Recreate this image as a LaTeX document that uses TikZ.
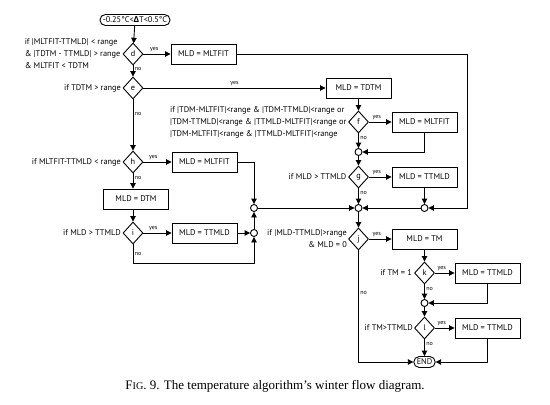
\documentclass[tikz,border=0pt]{standalone}
\usepackage{fontspec}
\setmainfont{Liberation Serif}
\newfontfamily\diag{PT Sans}
\newfontfamily\grk{Open Sans}
\usetikzlibrary{shapes.geometric,arrows.meta}
\begin{document}
\begin{tikzpicture}[x=1pt,y=-1pt,
  every node/.style={font=\diag\fontsize{8.3}{12}\selectfont},
  box/.style={draw, line width=0.9pt, minimum width=65pt, minimum height=20pt, inner sep=1pt},
  dia/.style={draw, diamond, line width=0.9pt, minimum width=20pt, minimum height=22pt, inner sep=0pt},
  term/.style={draw, rounded corners=5.5pt, line width=0.9pt, minimum height=11pt, inner xsep=3pt, inner ysep=0pt},
  circ/.style={draw, circle, minimum size=7pt, inner sep=0pt, line width=0.9pt},
  txt/.style={inner sep=0pt},
  arr/.style={line width=0.9pt, -{Triangle[length=5.5pt,width=5.5pt]}},
  yl/.style={font=\diag\fontsize{6}{7}\selectfont, inner sep=1.5pt},
]
\useasboundingbox (0,0) rectangle (550,405);
% column A
\node[term] (st) at (135,20) {-0.25°C<{\grk\bfseries Δ}T<0.5°C};
\node[dia] (d) at (133,54) {d};
\node[box] (b1) at (203.5,54) {MLD = MLTFIT};
\node[dia] (e) at (133,88) {e};
\node[dia] (h) at (133,162) {h};
\node[box] (b6) at (204.5,162) {MLD = MLTFIT};
\node[box] (dtm) at (136,199) {MLD = DTM};
\node[dia] (i) at (133,233) {i};
\node[box] (b7) at (204.5,233) {MLD = TTMLD};
\node[circ] (cu) at (254,208) {};
\node[circ] (cl) at (254,233) {};
% column B
\node[box] (tdtm) at (358.5,88) {MLD = TDTM};
\node[dia] (f) at (358.5,122) {f};
\node[box] (b2) at (424.5,122) {MLD = MLTFIT};
\node[circ] (c1) at (358.5,152) {};
\node[dia] (g) at (358.5,177) {g};
\node[box] (b3) at (424.5,177) {MLD = TTMLD};
\node[circ] (c2) at (358.5,208) {};
\node[circ] (cr) at (424.5,208) {};
\node[dia] (j) at (358.5,239) {j};
\node[box] (tm) at (424.5,239) {MLD = TM};
% column C
\node[dia] (k) at (424.5,273) {k};
\node[box] (b4) at (487.5,273) {MLD = TTMLD};
\node[circ] (c3) at (424.5,303) {};
\node[dia] (l) at (424.5,328) {l};
\node[box] (b5) at (487.5,328) {MLD = TTMLD};
\node[term] (end) at (424.5,362) {END};
% coordinates
\coordinate (rt) at (467,54);
\coordinate (ib) at (133,263);
\coordinate (jb) at (358.5,362);
% condition texts
\node[txt, anchor=east, align=left] (td) at ([xshift=-2pt]d.west) {if |MLTFIT-TTMLD| < range\\\& |TDTM - TTMLD| > range\\\& MLTFIT < TDTM};
\node[txt, anchor=east] (te) at ([xshift=-1.5pt]e.west) {if TDTM > range};
\node[txt, anchor=east, align=left] (tf) at ([xshift=-1.5pt]f.west) {if |TDM-MLTFIT|<range \& |TDM-TTMLD|<range or\\|TDM-TTMLD|<range \& |TTMLD-MLTFIT|<range or\\|TDM-MLTFIT|<range \& |TTMLD-MLTFIT|<range};
\node[txt, anchor=east] (tg) at ([xshift=-1.5pt]g.west) {if MLD > TTMLD};
\node[txt, anchor=east] (th) at ([xshift=-1.5pt]h.west) {if MLTFIT-TTMLD < range};
\node[txt, anchor=east] (ti) at ([xshift=-1.5pt]i.west) {if MLD > TTMLD};
\node[txt, anchor=east, align=right] (tj) at ([xshift=-1pt]j.west) {if |MLD-TTMLD|>range\\\& MLD = 0};
\node[txt, anchor=east] (tk) at ([xshift=-2pt]k.west) {if TM = 1};
\node[txt, anchor=east] (tl) at ([xshift=-1pt]l.west) {if TM>TTMLD};
% connectors
\draw[arr] (st) -- (d);
\draw[arr] (d) -- node[yl,above,pos=0.4]{yes} (b1);
\draw[arr] (b1.east) -- (rt) |- (cr);
\draw[arr] (d) -- node[yl,right,pos=0.3]{no} (e);
\draw[arr] (e) -- node[yl,above]{yes} (tdtm);
\draw[arr] (tdtm) -- (f);
\draw[arr] (f) -- node[yl,above,pos=0.35]{yes} (b2);
\draw[arr] (f) -- node[yl,right,pos=0.3]{no} (c1);
\draw[arr] (b2.south) |- (c1);
\draw[arr] (c1) -- (g);
\draw[arr] (g) -- node[yl,above,pos=0.35]{yes} (b3);
\draw[arr] (g) -- node[yl,right,pos=0.3]{no} (c2);
\draw[arr] (b3) -- (cr);
\draw[arr] (cr) -- (c2);
\draw[arr] (e) -- node[yl,right,pos=0.28]{no} (h);
\draw[arr] (h) -- node[yl,above,pos=0.35]{yes} (b6);
\draw[arr] (b6.east) -| (cu);
\draw[arr] (h.south) -- node[yl,right,pos=0.3]{no} (h.south |- dtm.north);
\draw[arr] (i |- dtm.south) -- (i);
\draw[arr] (i) -- node[yl,above,pos=0.35]{yes} (b7);
\draw[arr] (b7) -- (cl);
\draw[arr] (i.south) -- node[yl,right,pos=0.5]{no} (ib) -| (cl);
\draw[arr] (cl) -- (cu);
\draw[arr] (cu) -- (c2);
\draw[arr] (c2) -- (j);
\draw[arr] (j) -- node[yl,above,pos=0.35]{yes} (tm);
\draw[arr] (tm) -- (k);
\draw[arr] (k) -- node[yl,above,pos=0.35]{yes} (b4);
\draw[arr] (k) -- node[yl,right,pos=0.3]{no} (c3);
\draw[arr] (b4.south) |- (c3);
\draw[arr] (c3) -- (l);
\draw[arr] (l) -- node[yl,above,pos=0.35]{yes} (b5);
\draw[arr] (l) -- node[yl,right,pos=0.3]{no} (end);
\draw[arr] (b5.south) |- (end);
\draw[arr] (j.south) -- node[yl,right,pos=0.38]{no} (jb) -- (end);
% caption
\node[font=\fontsize{13}{15}\selectfont, inner sep=0pt] (cap) at (275,386) {F{\fontsize{10.2}{12}\selectfont IG}. 9. The temperature algorithm’s winter flow diagram.};
\end{tikzpicture}
\end{document}
